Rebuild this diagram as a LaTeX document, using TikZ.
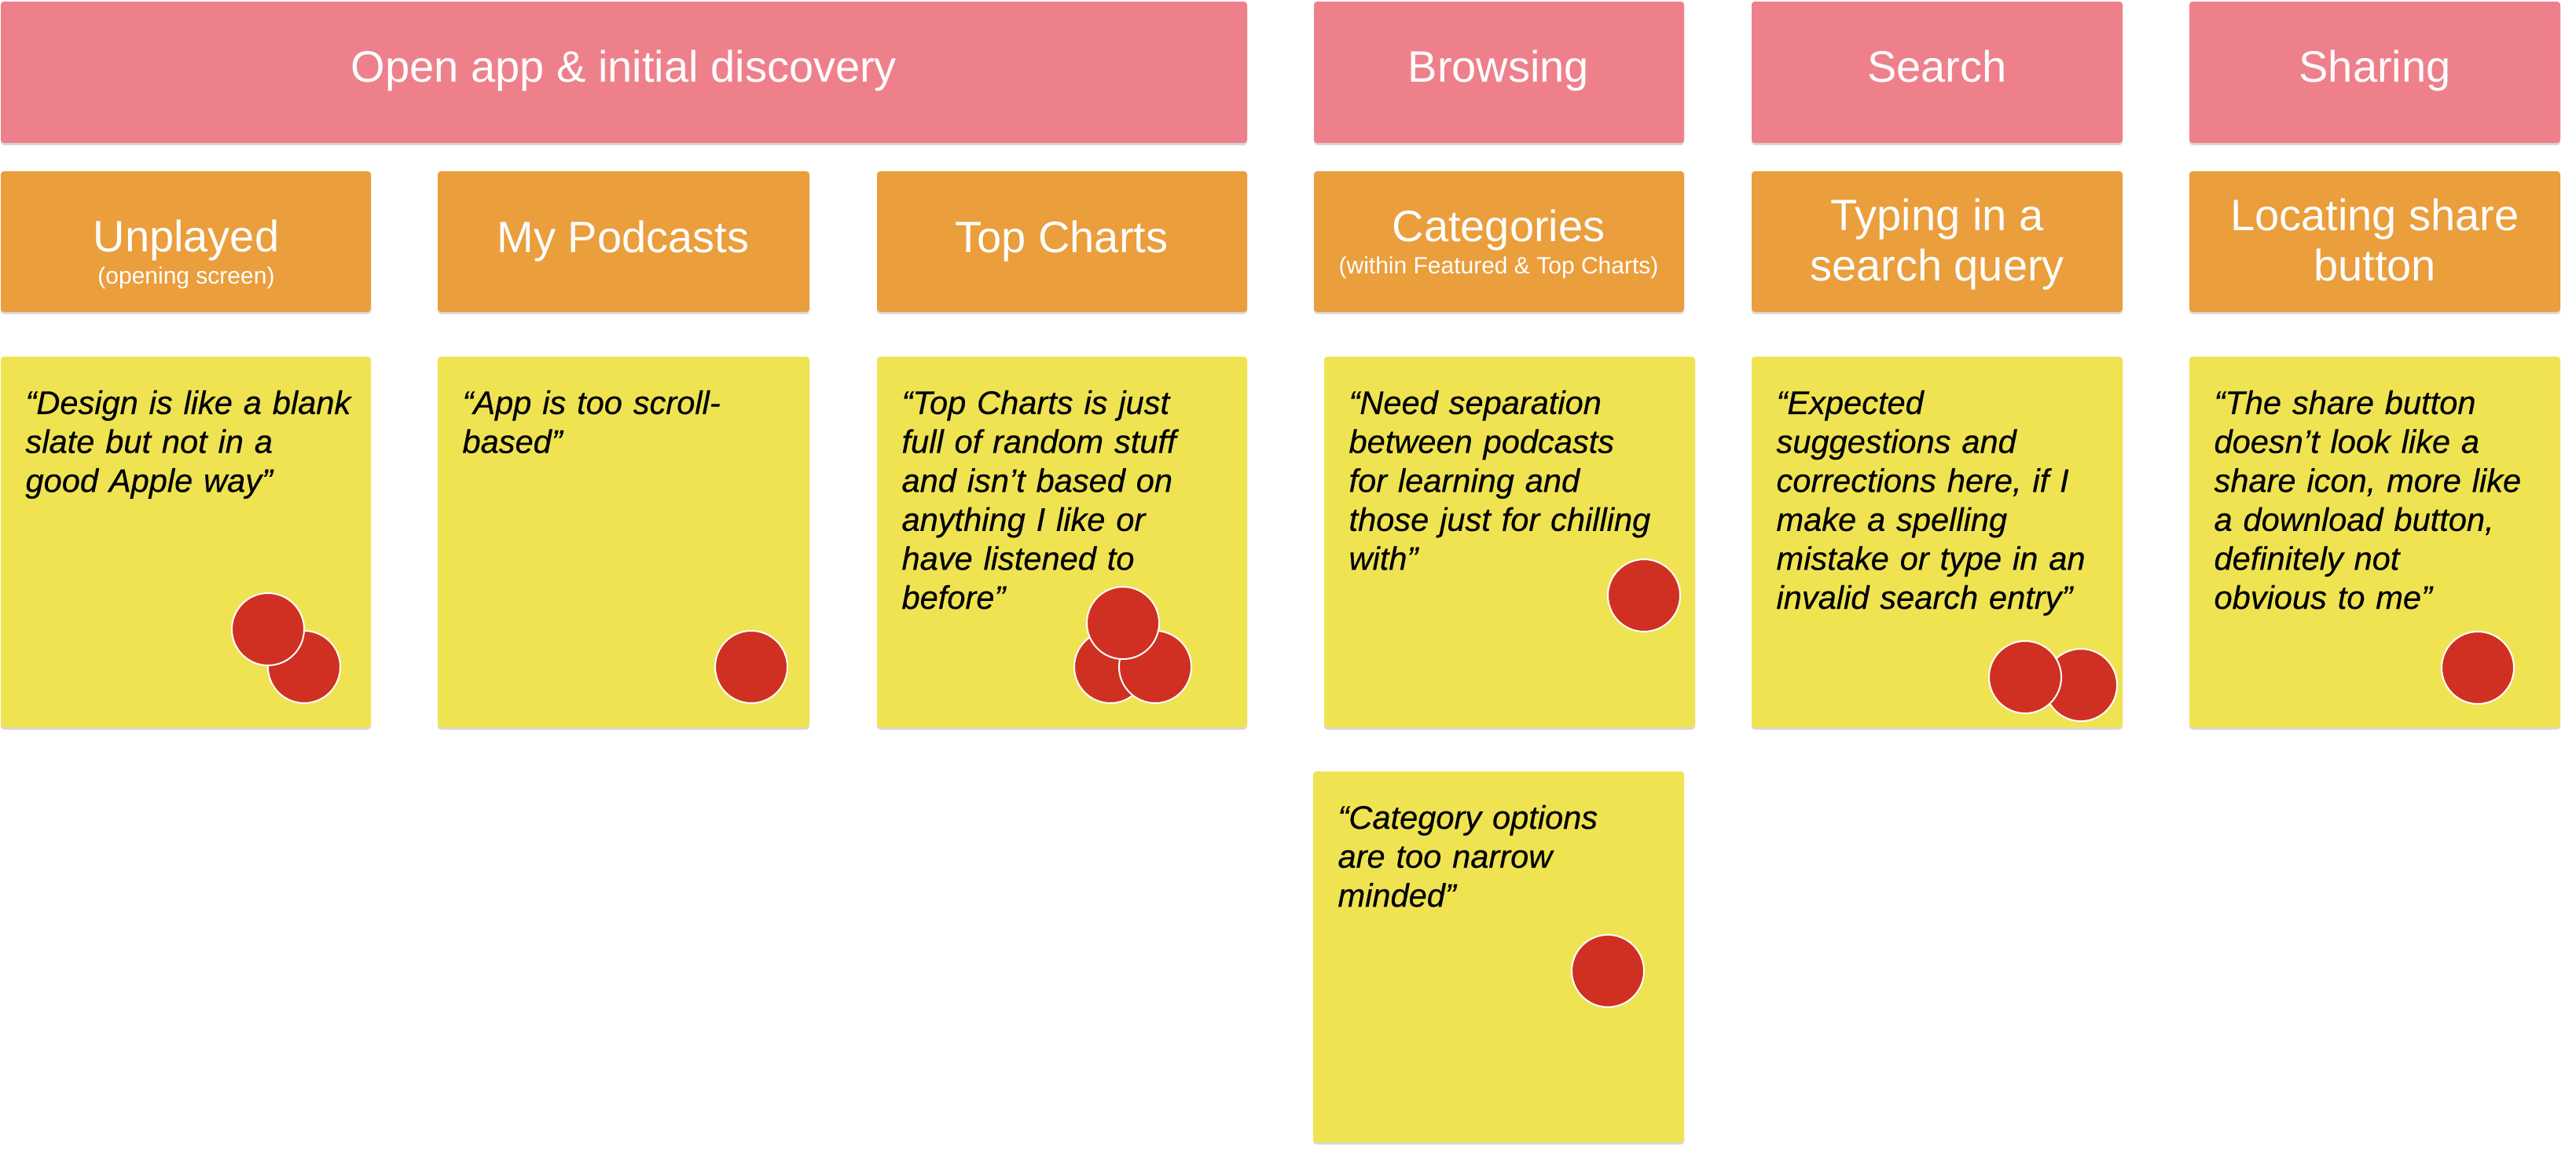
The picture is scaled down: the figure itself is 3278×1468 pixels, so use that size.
\documentclass[tikz,border=0pt]{standalone}
\usepackage{fontspec}
\setmainfont{Liberation Sans}
\newfontface\quoteface{Liberation Sans Italic}[FakeBold=0.4]
\usetikzlibrary{shadows}

\definecolor{phasepink}{HTML}{EE808C}
\definecolor{taskorange}{HTML}{EA9E3C}
\definecolor{noteyellow}{HTML}{EFE352}
\definecolor{votered}{HTML}{D03022}

\tikzset{every picture/.style={line width=0.75pt}}
\tikzset{
  boxshadow/.style={drop shadow={shadow xshift=0pt,shadow yshift=-0.7pt,opacity=0.3}},
  phase/.style={fill=phasepink, rounded corners=1pt, boxshadow},
  task/.style={fill=taskorange, rounded corners=1pt, boxshadow},
  note/.style={fill=noteyellow, rounded corners=1pt, boxshadow},
  vote/.style={fill=votered, draw=white, line width=0.5pt},
  phaselabel/.style={anchor=base, inner sep=0pt, text=white, font=\fontsize{14}{16}\selectfont},
  tasklabel/.style={anchor=base, inner sep=0pt, text=white, font=\fontsize{14}{16}\selectfont},
  tasksub/.style={anchor=base, inner sep=0pt, text=white, font=\fontsize{7.5}{9}\selectfont},
  notetext/.style={anchor=base west, inner sep=0pt, text width=118pt, align=left,
    font=\fontsize{10.4}{12.4}\selectfont\quoteface}
}

\begin{document}
\begin{tikzpicture}[x=0.25pt,y=0.25pt,yscale=-1,xscale=1]

\useasboundingbox (0,0) rectangle (3278,1468);

% phases
\fill [phase] (1,2) rectangle (1587,182);
\fill [phase] (1672,2) rectangle (2143,182);
\fill [phase] (2229,2) rectangle (2701,182);
\fill [phase] (2786,2) rectangle (3258,182);

% tasks
\fill [task] (1,218) rectangle (472,397);
\fill [task] (557,218) rectangle (1030,397);
\fill [task] (1116,218) rectangle (1587,397);
\fill [task] (1672,218) rectangle (2143,397);
\fill [task] (2229,218) rectangle (2701,397);
\fill [task] (2786,218) rectangle (3258,397);

% notes
\fill [note] (1,454) rectangle (472,926);
\fill [note] (557,454) rectangle (1030,926);
\fill [note] (1116,454) rectangle (1587,926);
\fill [note] (1685,454) rectangle (2157,926);
\fill [note] (2229,454) rectangle (2701,926);
\fill [note] (2786,454) rectangle (3258,926);
\fill [note] (1671,982) rectangle (2143,1454);

% votes
\draw [vote] (387,849) circle (46);
\draw [vote] (341,801) circle (46);
\draw [vote] (956,849) circle (46);
\draw [vote] (1413,849) circle (46);
\draw [vote] (1470,849) circle (46);
\draw [vote] (1429,793) circle (46);
\draw [vote] (2092,758) circle (46);
\draw [vote] (2648,872) circle (46);
\draw [vote] (2577,862) circle (46);
\draw [vote] (3153,850) circle (46);
\draw [vote] (2046,1236) circle (46);

\draw (794,104) node (open) [phaselabel] {Open app \& initial discovery};
\draw (1907,104) node (browse) [phaselabel] {Browsing};
\draw (2465,104) node (search) [phaselabel] {Search};
\draw (3022,104) node (share) [phaselabel] {Sharing};

\draw (237,320) node (unplayed) [tasklabel] {Unplayed};
\draw (237,361) node (unplayedsub) [tasksub] {(opening screen)};
\draw (793,321) node (mypods) [tasklabel] {My Podcasts};
\draw (1351,321) node (topcharts) [tasklabel] {Top Charts};
\draw (1907,307) node (categories) [tasklabel] {Categories};
\draw (1907,348) node (categoriessub) [tasksub] {(within Featured \& Top Charts)};
\draw (2465,293) node (typing) [tasklabel] {Typing in a};
\draw (2465,357) node (typingb) [tasklabel] {search query};
\draw (3022,293) node (locating) [tasklabel] {Locating share};
\draw (3022,357) node (locatingb) [tasklabel] {button};

\draw (31,527) node (blank) [notetext] {“Design is like a blank\\slate but not in a\\good Apple way”};
\draw (587,527) node (scroll) [notetext] {“App is too scroll-\\based”};
\draw (1146,527) node (random) [notetext] {“Top Charts is just\\full of random stuff\\and isn’t based on\\anything I like or\\have listened to\\before”};
\draw (1715,527) node (separation) [notetext] {“Need separation\\between podcasts\\for learning and\\those just for chilling\\with”};
\draw (2259,527) node (suggest) [notetext] {“Expected\\suggestions and\\corrections here, if I\\make a spelling\\mistake or type in an\\invalid search entry”};
\draw (2816,527) node (icon) [notetext] {“The share button\\doesn’t look like a\\share icon, more like\\a download button,\\definitely not\\obvious to me”};
\draw (1701,1055) node (narrow) [notetext] {“Category options\\are too narrow\\minded”};

\end{tikzpicture}
\end{document}
